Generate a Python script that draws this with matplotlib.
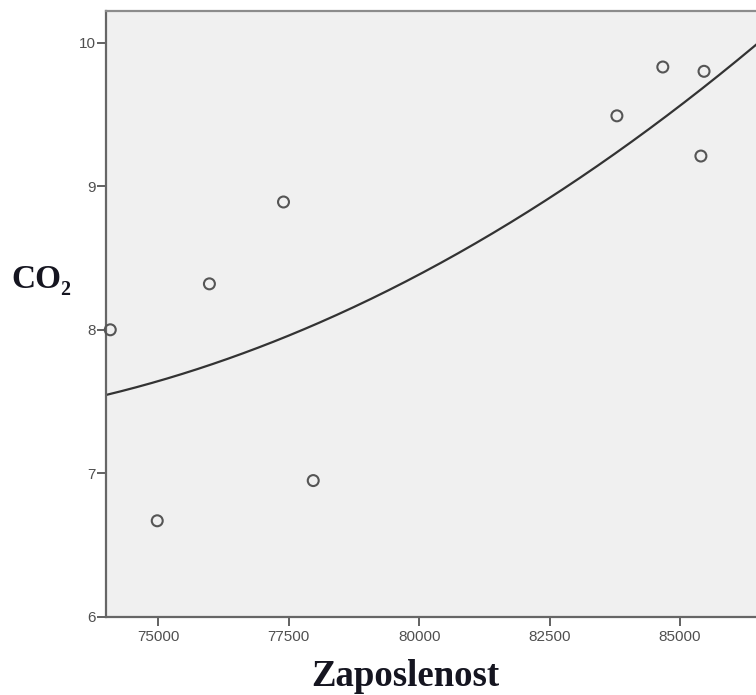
import numpy as np
import matplotlib
matplotlib.use("Agg")
import matplotlib.pyplot as plt

# Observations (Zaposlenost vs CO2)
zaposlenost = [74080, 74980, 75980, 77400, 77970, 83790, 84670, 85460, 85400]
co2 = [8.00, 6.67, 8.32, 8.89, 6.95, 9.49, 9.83, 9.80, 9.21]

# fitted curve (quadratic in thousands, centred at 80000)
fit_center = 80000
fit_coef = [8.385, 0.1918, 0.00867]   # c0, c1, c2

x_ticks = [75000, 77500, 80000, 82500, 85000]
y_ticks = [6, 7, 8, 9, 10]

fig = plt.figure(figsize=(7.56, 6.95), dpi=100)
ax = fig.add_axes([106 / 756, 1 - 617 / 695, 1 - 106 / 756, (617 - 11) / 695])
ax.set_facecolor("#f0f0f0")

xmin, xmax = 73998, 86456
xs = np.linspace(xmin, xmax, 300)
u = (xs - fit_center) / 1000
ys = fit_coef[0] + fit_coef[1] * u + fit_coef[2] * u ** 2
ax.plot(xs, ys, color="#333333", lw=1.6, zorder=2)

ax.scatter(zaposlenost, co2, s=62, facecolors="none", edgecolors="#555555",
           linewidths=1.5, zorder=3, clip_on=False)

ax.set_xlim(xmin, xmax)
ax.set_ylim(6, 10.22)
ax.set_xticks(x_ticks)
ax.set_yticks(y_ticks)
ax.tick_params(direction="out", length=6.5, width=1.3, color="#555555",
               labelsize=11, labelcolor="#505050")
ax.tick_params(axis="y", pad=1)
ax.tick_params(axis="x", pad=3)
for lab in ax.get_xticklabels() + ax.get_yticklabels():
    lab.set_family("Liberation Sans")

for side in ["left", "bottom"]:
    ax.spines[side].set_color("#666666")
    ax.spines[side].set_linewidth(1.6)
ax.spines["top"].set_color("#8c8c8c")
ax.spines["top"].set_linewidth(1.6)
ax.spines["right"].set_visible(False)

fig.text(405 / 756, 1 - 677 / 695, "Zaposlenost", ha="center", va="center",
         fontsize=26.5, fontweight="bold", color="#151520",
         family=["Liberation Serif", "DejaVu Serif"])
fig.text(41 / 756, 1 - 280 / 695, "CO₂", ha="center", va="center",
         fontsize=24, fontweight="bold", color="#151520",
         family=["Liberation Serif", "DejaVu Serif"])

fig.savefig("out.png", dpi=100)
